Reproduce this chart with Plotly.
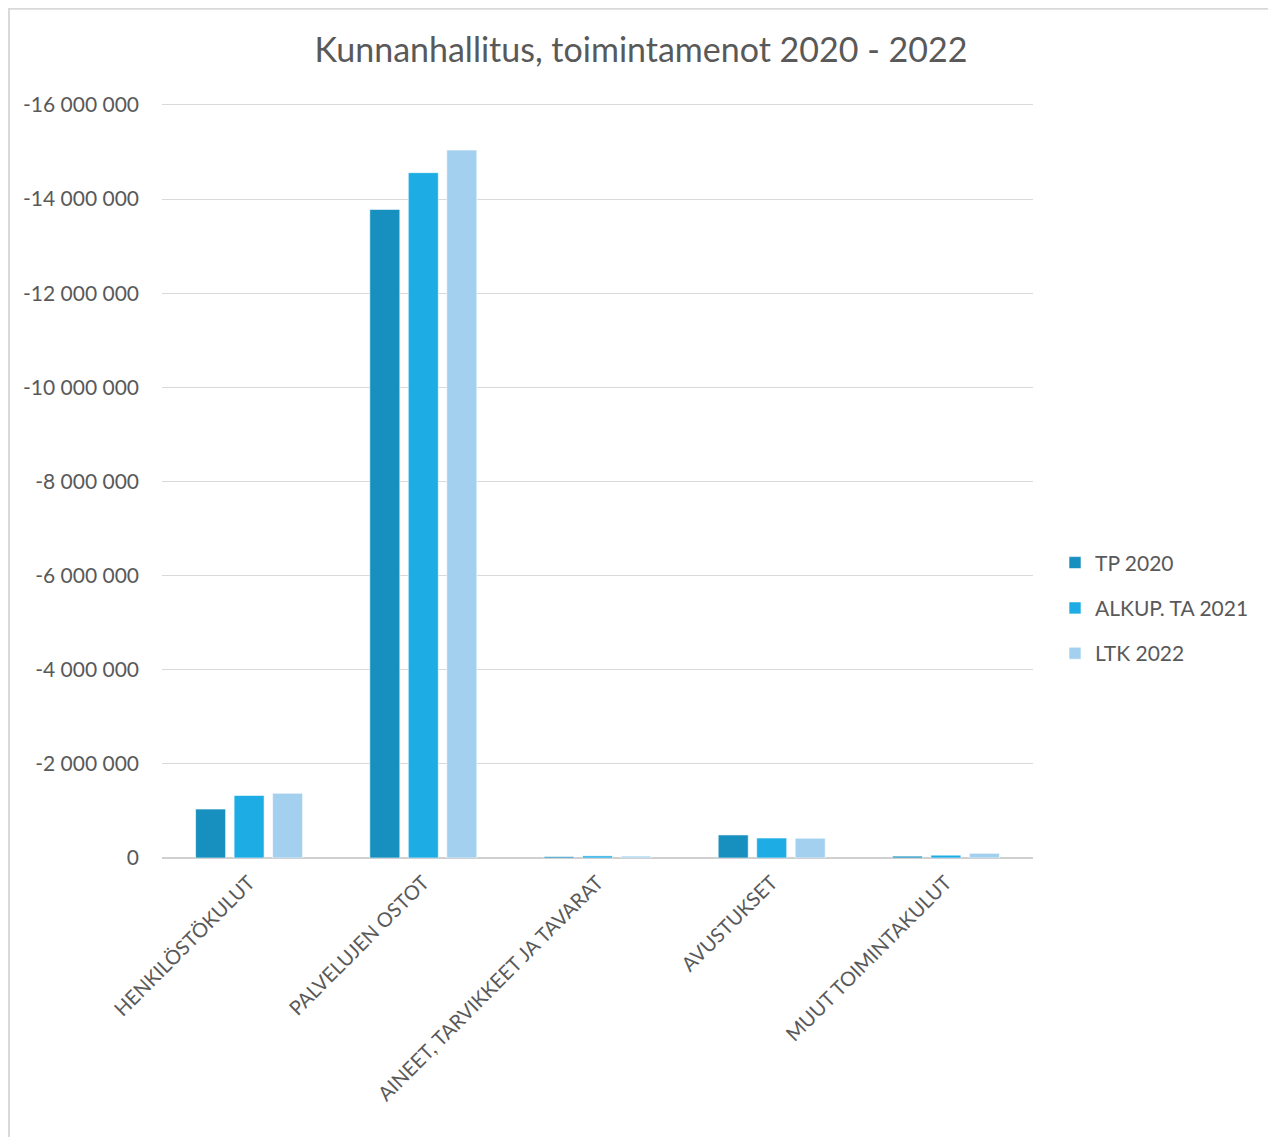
import plotly.graph_objects as go

categories = ["HENKILÖSTÖKULUT", "PALVELUJEN OSTOT", "AINEET, TARVIKKEET JA TAVARAT", "AVUSTUKSET", "MUUT TOIMINTAKULUT"]
tp_2020 = [-1040000, -13780000, -30000, -490000, -40000]
alkup_ta_2021 = [-1330000, -14560000, -45000, -425000, -60000]
ltk_2022 = [-1375000, -15040000, -40000, -420000, -100000]
series_names = ["TP 2020", "ALKUP. TA 2021", "LTK 2022"]
tick_vals = [0, -2000000, -4000000, -6000000, -8000000, -10000000, -12000000, -14000000, -16000000]
tick_text = ["0", "-2 000 000", "-4 000 000", "-6 000 000", "-8 000 000", "-10 000 000", "-12 000 000", "-14 000 000", "-16 000 000"]

colors = ["#178FBF", "#1DADE4", "#A3D0EE"]
FONT = "Lato"
OFF = 8  # page body margin
Y_MAX = -16000000
Y_EXT = -40000  # tiny headroom so the top gridline is drawn

fig = go.Figure()
for i, (name, vals, c) in enumerate(zip(series_names, [tp_2020, alkup_ta_2021, ltk_2022], colors)):
    fig.add_trace(go.Bar(
        x=categories, y=vals, name=name, legendgroup=f"g{i}",
        marker=dict(color=c, line=dict(color="rgba(255,255,255,0.6)", width=1)),
    ))

W, H = 1276 - OFF, 1137 - OFF
scale = (858 - 105) / abs(Y_MAX)
ext_px = abs(Y_EXT) * scale
x_left, x_right, y_top, y_bot = 162 - OFF, 1033 - OFF, 105 - OFF - ext_px, 858 - OFF
L, R, T, B = x_left, W - x_right, y_top, H - y_bot
pw, ph = x_right - x_left, y_bot - y_top

def px(x):
    return (x - OFF - x_left) / pw

def py(y):
    return (y_bot - (y - OFF)) / ph

fig.update_layout(
    width=W, height=H,
    margin=dict(l=L, r=R, t=T, b=B),
    paper_bgcolor="white", plot_bgcolor="white",
    barmode="group", bargap=0.337, bargroupgap=0.22,
    title=dict(text="Kunnanhallitus, toimintamenot 2020 - 2022", xref="container",
               x=(641 - OFF) / W, xanchor="center",
               y=1 - (50 - OFF) / H, yanchor="middle",
               font=dict(family=FONT, size=34, color="#595959")),
    font=dict(family=FONT, color="#595959"),
    legend=dict(x=px(1055), y=py(608), xanchor="left", yanchor="middle",
                font=dict(family=FONT, size=21, color="#595959"),
                traceorder="grouped", tracegroupgap=15, itemwidth=30),
    showlegend=True,
)
fig.update_xaxes(tickangle=-45, tickfont=dict(family=FONT, size=20, color="#595959"),
                 showgrid=False, showline=False, ticks="", ticklabelstandoff=8)
fig.update_yaxes(range=[0, Y_MAX + Y_EXT], tickvals=tick_vals, ticktext=tick_text,
                 tickfont=dict(family=FONT, size=21, color="#595959"),
                 showgrid=True, gridcolor="#D9D9D9", gridwidth=1,
                 zeroline=True, zerolinecolor="#D0D0D0", zerolinewidth=2,
                 showline=False, ticks="", ticklabelstandoff=22)

# chart area border
fig.add_shape(type="rect", xref="paper", yref="paper",
              x0=px(9), x1=px(1274), y0=py(1150), y1=py(9),
              line=dict(color="#D9D9D9", width=2), fillcolor="rgba(0,0,0,0)", layer="below")

fig.write_html("out.html")
